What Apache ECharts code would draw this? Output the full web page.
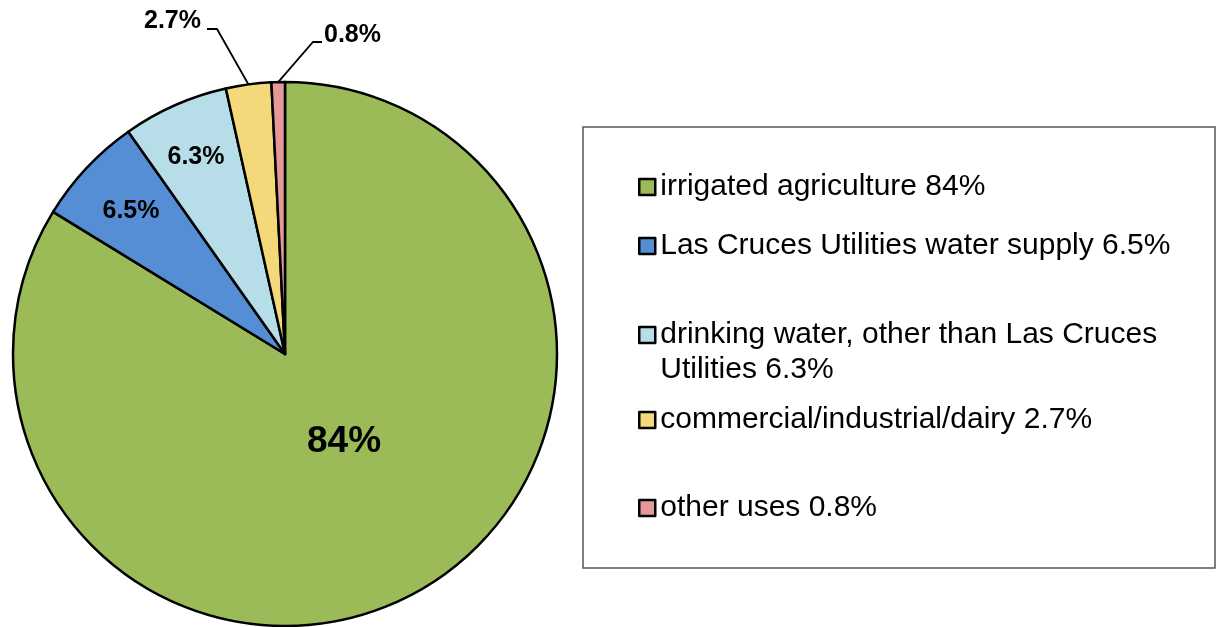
<!DOCTYPE html>
<html>
<head>
<meta charset="utf-8">
<script src="https://cdn.jsdelivr.net/npm/echarts@6/dist/echarts.min.js"></script>
<style>
  html, body { margin: 0; padding: 0; background: #fff; }
  #main { width: 1217px; height: 627px; }
</style>
</head>
<body>
<div id="main"></div>
<script>
// categories and values
var names = [
    'irrigated agriculture',
    'Las Cruces Utilities water supply',
    'drinking water, other than Las Cruces Utilities',
    'commercial/industrial/dairy',
    'other uses'
];
var values = [84, 6.5, 6.3, 2.7, 0.8];
var colors = ['#9bbb59', '#558ed5', '#b7dee8', '#f3d97a', '#e5979a'];

// where the slice labels sit: [x, y, align, bendX, lineY, endX]
var labelSpots = [
    [344, 442, 'center'],
    [131, 211, 'center'],
    [196, 157, 'center'],
    [201, 21, 'right', 217, 29, 207],
    [324, 35, 'left', 313, 42, 322]
];
// legend row centres (y of the marker)
var legendRows = [187, 246, 335, 420, 508];

var chart = echarts.init(document.getElementById('main'));

var pieData = names.map(function (n, i) {
    var item = { name: n, value: values[i], itemStyle: { color: colors[i] } };
    if (i >= 3) {
        item.label = { position: 'outside' };
        item.labelLine = { show: true };
    }
    if (i === 0) {
        item.label = { fontSize: 37 };
    }
    return item;
});

var LH = 35;
var legends = names.map(function (n, i) {
    var twoLines = i === 2;
    return {
        data: [n],
        left: 638,
        // the wrapped item gets an empty first line so the marker sits on the first text line
        top: twoLines ? legendRows[i] - 1.5 * LH : legendRows[i] - LH / 2,
        padding: 0,
        icon: 'rect',
        itemWidth: 16,
        itemHeight: 16,
        selectedMode: false,
        itemStyle: { borderColor: '#000', borderWidth: 2.5 },
        formatter: function (name) {
            var v = values[names.indexOf(name)];
            return twoLines ? '\ndrinking water, other than Las Cruces\nUtilities ' + v + '%' : name + ' ' + v + '%';
        },
        textStyle: {
            fontFamily: 'Liberation Sans',
            fontSize: 30,
            color: '#000',
            lineHeight: LH
        }
    };
});

chart.setOption({
    backgroundColor: '#fff',
    animation: false,
    legend: legends,
    graphic: [{
        type: 'rect',
        shape: { x: 583, y: 127, width: 632, height: 441 },
        style: { fill: 'none', stroke: '#555', lineWidth: 1.5 }
    }],
    series: [{
        type: 'pie',
        center: [285, 354],
        radius: [0, 272],
        startAngle: 90,
        clockwise: true,
        itemStyle: { borderColor: '#000', borderWidth: 2.5 },
        emphasis: { disabled: true },
        label: {
            show: true,
            position: 'inside',
            fontFamily: 'Liberation Sans',
            fontWeight: 'bold',
            fontSize: 25,
            color: '#000',
            formatter: function (p) { return p.value + '%'; }
        },
        labelLine: {
            show: false,
            length: 40,
            length2: 10,
            lineStyle: { color: '#000', width: 1.8 }
        },
        labelLayout: function (p) {
            var s = labelSpots[p.dataIndex];
            var res = { x: s[0], y: s[1], align: s[2], verticalAlign: 'middle' };
            if (s.length > 3 && p.labelLinePoints) {
                res.labelLinePoints = [p.labelLinePoints[0], [s[3], s[4]], [s[5], s[4]]];
            }
            return res;
        },
        data: pieData
    }]
});
</script>
</body>
</html>
